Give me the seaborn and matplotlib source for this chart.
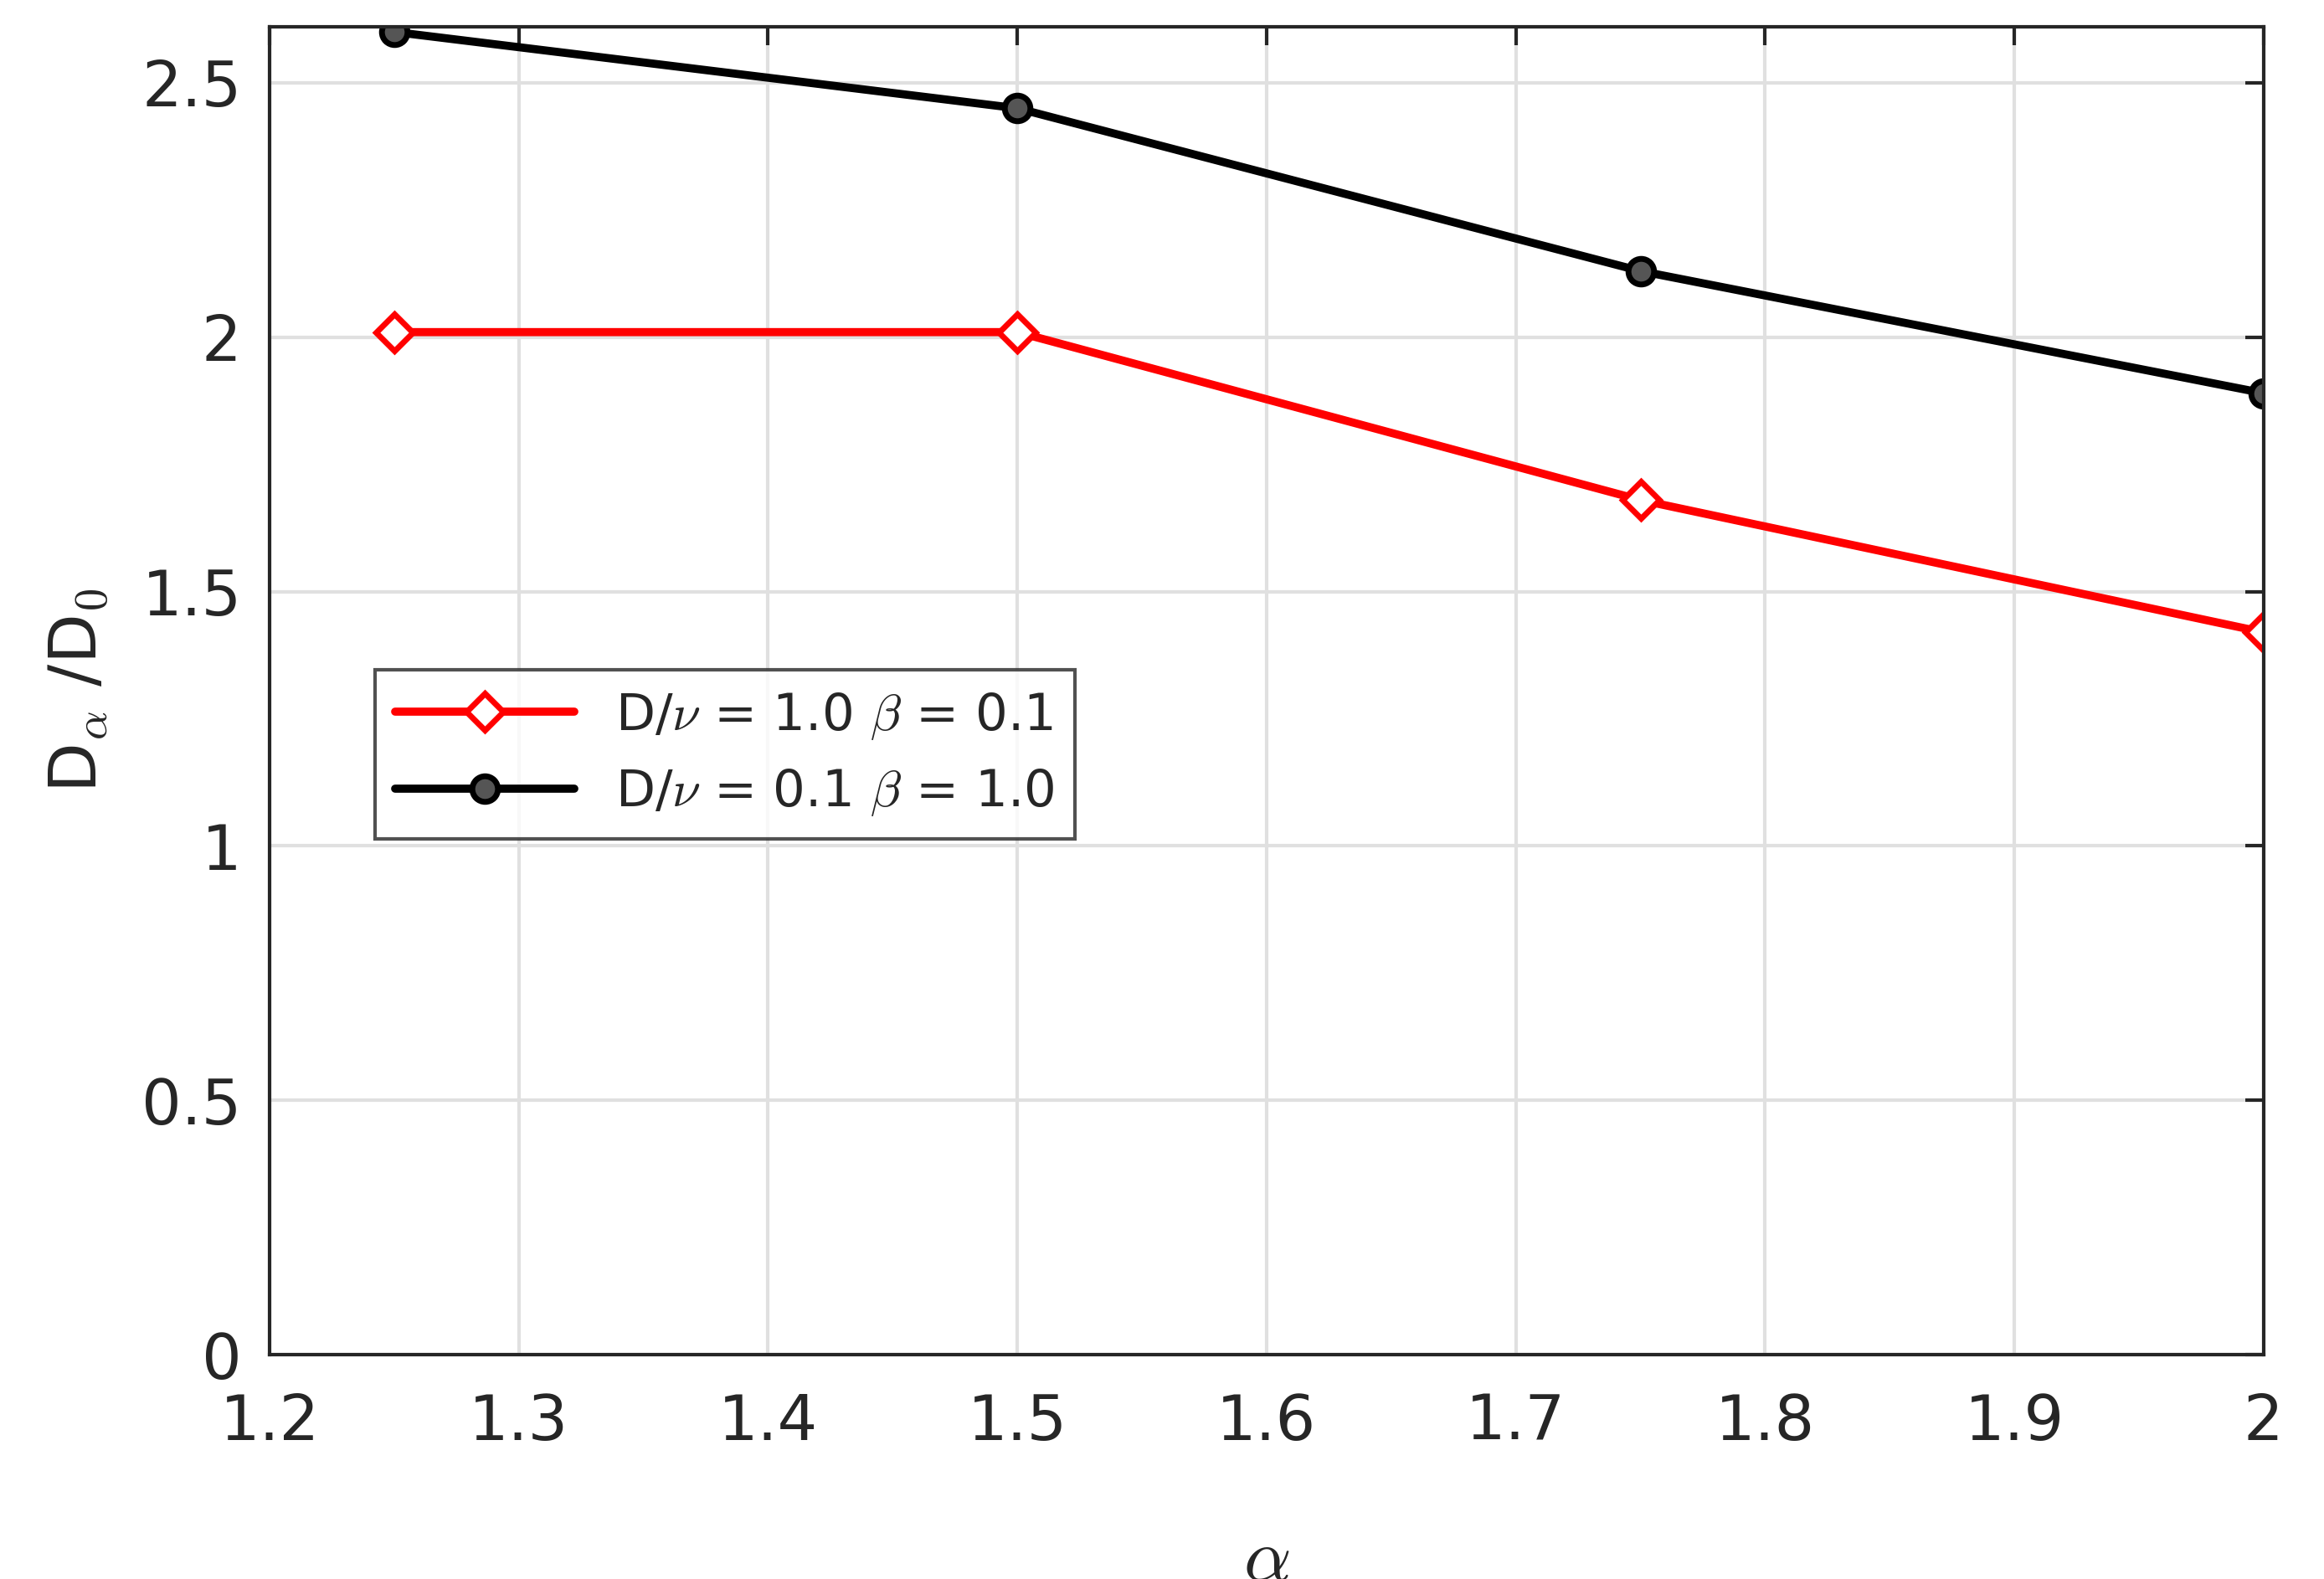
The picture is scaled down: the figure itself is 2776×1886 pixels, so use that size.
import matplotlib
matplotlib.use("Agg")
import matplotlib.pyplot as plt
import seaborn as sns
import pandas as pd

# Données
alpha = [1.25, 1.5, 1.75, 2.0]
ratio_red = [2.01, 2.01, 1.68, 1.42]
ratio_black = [2.60, 2.45, 2.13, 1.89]
xticks = [1.2, 1.3, 1.4, 1.5, 1.6, 1.7, 1.8, 1.9, 2.0]
xticklabels = ["1.2", "1.3", "1.4", "1.5", "1.6", "1.7", "1.8", "1.9", "2"]
yticks = [0, 0.5, 1, 1.5, 2, 2.5]
yticklabels = ["0", "0.5", "1", "1.5", "2", "2.5"]

sns.set_style("white")
plt.rcParams['font.family'] = ['DejaVu Sans']
plt.rcParams['mathtext.fontset'] = 'cm'

fig = plt.figure(figsize=(13.88, 9.43), dpi=200)
ax = fig.add_axes([0.116, 0.142, 0.858, 0.841])

df_red = pd.DataFrame({"x": alpha, "y": ratio_red})
df_black = pd.DataFrame({"x": alpha, "y": ratio_black})
sns.lineplot(data=df_red, x="x", y="y", ax=ax, color="#ff0000", lw=3.5,
             marker="D", markersize=11, markerfacecolor="white",
             markeredgecolor="#ff0000", markeredgewidth=2.5,
             label=r"D/$\nu$ = 1.0 $\beta$ = 0.1")
sns.lineplot(data=df_black, x="x", y="y", ax=ax, color="black", lw=3.5,
             marker="o", markersize=11, markerfacecolor="#555555",
             markeredgecolor="black", markeredgewidth=2.5,
             label=r"D/$\nu$ = 0.1 $\beta$ = 1.0")

ax.set_xlim(1.2, 2.0)
ax.set_ylim(0, 2.61)
ax.set_xticks(xticks)
ax.set_xticklabels(xticklabels)
ax.set_yticks(yticks)
ax.set_yticklabels(yticklabels)
ax.tick_params(labelsize=27, colors="#262626", direction="in", length=8, width=1.5)
ax.tick_params(axis="x", pad=16)
ax.tick_params(axis="y", pad=12)
ax.tick_params(top=True, right=True)
ax.grid(True, color="#e0e0e0", lw=1.5)
for s in ax.spines.values():
    s.set_color("#262626")
    s.set_linewidth(1.5)

ax.set_xlabel(r"$\alpha$", fontsize=32, color="#262626", labelpad=30)
ax.set_ylabel(r"D$_\alpha$ /D$_0$", fontsize=28, color="#262626", labelpad=14)

leg = ax.legend(loc="upper left", bbox_to_anchor=(0.04, 0.535), fontsize=22,
                frameon=True, fancybox=False, edgecolor="#262626",
                handlelength=3.5, borderpad=0.4)
leg.get_frame().set_linewidth(1.5)

fig.savefig("out.png", dpi=200)
